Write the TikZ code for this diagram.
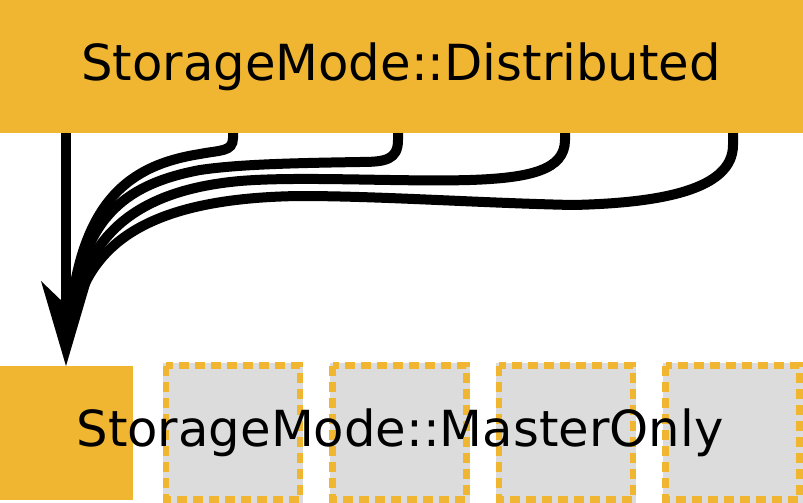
\documentclass[tikz,border=0pt]{standalone}
\usepackage{fontspec}
\setmainfont{DejaVu Sans}
\usetikzlibrary{calc}
\definecolor{gold}{HTML}{F0B631}
\definecolor{boxgray}{HTML}{DCDCDC}
\begin{document}
\begin{tikzpicture}[x=1pt,y=-1pt,
  label/.style={inner sep=0pt,anchor=base,font=\fontsize{49.7}{60}\selectfont},
  wire/.style={line width=10pt,draw=black},
  ghost/.style={fill=boxgray,draw=none,inner sep=0pt,minimum width=140pt,minimum height=140pt},
  ghostedge/.style={draw=gold,line width=6.5pt,dash pattern=on 10pt off 6pt}]
\useasboundingbox (0,0) rectangle (803,503);
\fill[white] (0,0) rectangle (803,503);
% top box
\node[fill=gold,inner sep=0pt,minimum width=803pt,minimum height=133pt,anchor=north west] (dist) at (0,0) {};
\node[label] (distl) at (401,81) {StorageMode::Distributed};
% bottom boxes
\node[fill=gold,inner sep=0pt,minimum width=133pt,minimum height=134pt] (mo) at (66.5,433) {};
\foreach \i/\cx in {1/233,2/399.5,3/566,4/732.5}{
  \node[ghost] (g\i) at (\cx,432.5) {};
  \draw[ghostedge] ($(\cx,432.5)+(-66.8,-66.8)$) rectangle ($(\cx,432.5)+(66.8,66.8)$);
}
\node[label] (mol) at (400,446) {StorageMode::MasterOnly};
% connectors
\coordinate (s0) at (66,133);
\coordinate (s1) at (233,133);
\coordinate (s2) at (398,133);
\coordinate (s3) at (565,133);
\coordinate (s4) at (733,133);
\coordinate (tip) at (66,366);
\draw[wire] (s0) -- (66,330);
\draw[wire] (s1) -- (233,138) .. controls (233,152) and (220,150) .. (200,154)
   .. controls (130,165) and (82,200) .. (70,318);
\draw[wire] (s2) -- (398,140) .. controls (398,160) and (385,162) .. (360,162)
   .. controls (300,163) and (240,164) .. (200,170)
   .. controls (120,185) and (82,222) .. (71,318);
\draw[wire] (s3) -- (565,140) .. controls (565,170) and (530,178) .. (470,180)
   .. controls (400,182) and (300,176) .. (240,181)
   .. controls (140,190) and (86,232) .. (72,318);
\draw[wire] (s4) -- (733,145) .. controls (733,190) and (660,203) .. (573,205)
   .. controls (480,203) and (380,196) .. (300,196)
   .. controls (150,198) and (90,242) .. (73,318);
\fill[black] (tip) -- (41,281) -- (66,305) -- (91,281) -- cycle;
\end{tikzpicture}
\end{document}
